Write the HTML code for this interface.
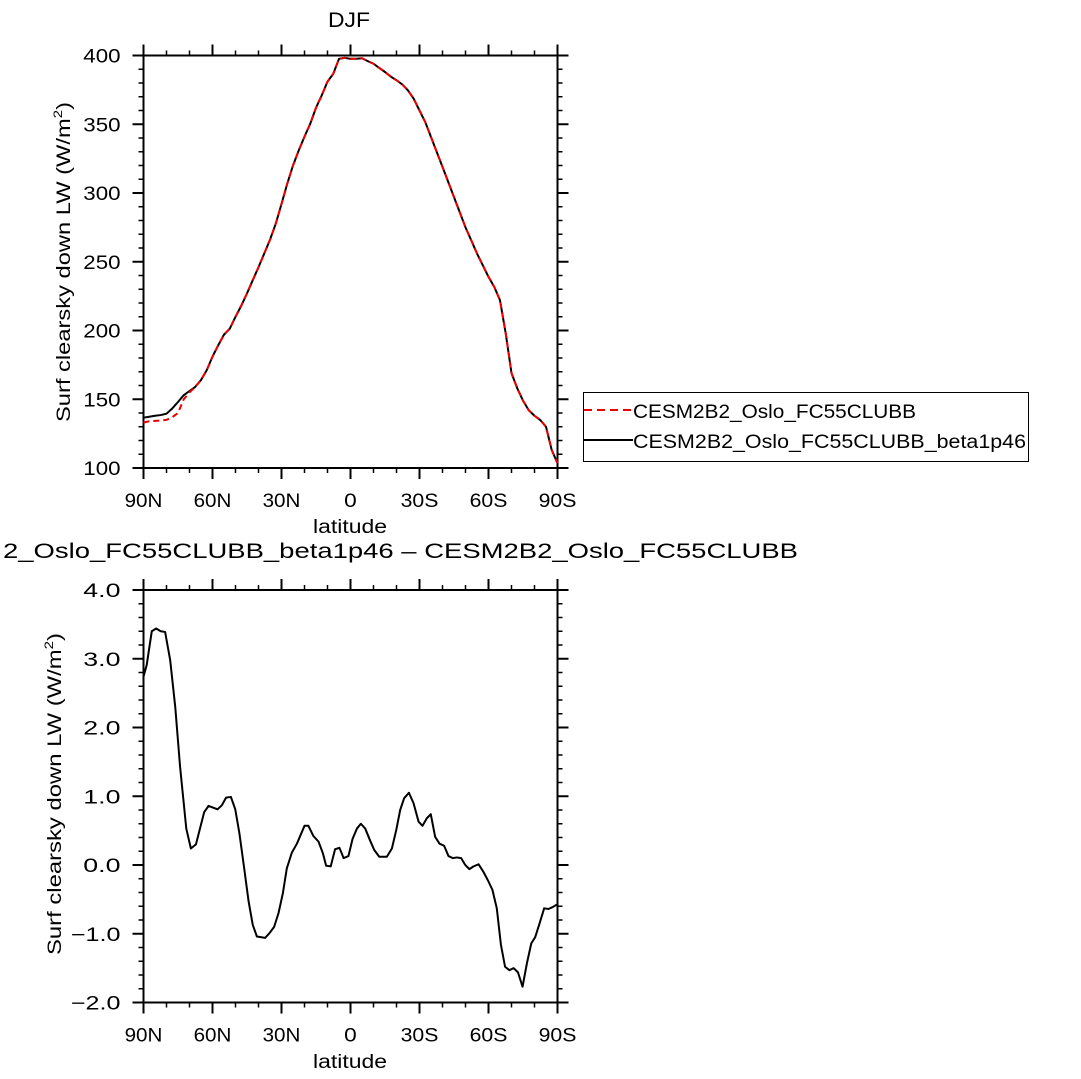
<!DOCTYPE html>
<html><head><meta charset="utf-8"><style>
html,body{margin:0;padding:0;background:#fff;}
svg{display:block;font-family:"Liberation Sans","DejaVu Sans",sans-serif;}
</style></head><body>
<svg id="chart" width="1081" height="1079" viewBox="0 0 1081 1079" xmlns="http://www.w3.org/2000/svg">
<rect width="1081" height="1079" fill="#fff"/>
<g id="top"></g>
<g id="bot"></g>
<text x="349" y="27" font-size="21" text-anchor="middle" textLength="42" lengthAdjust="spacingAndGlyphs">DJF</text>
<text x="3" y="558" font-size="21" textLength="795" lengthAdjust="spacingAndGlyphs">2_Oslo_FC55CLUBB_beta1p46 – CESM2B2_Oslo_FC55CLUBB</text>
<text transform="translate(70,262) rotate(-90)" font-size="19" text-anchor="middle" textLength="320" lengthAdjust="spacingAndGlyphs">Surf clearsky down LW (W/m<tspan font-size="12" dy="-8">2</tspan><tspan dy="8">)</tspan></text>
<text transform="translate(61,794) rotate(-90)" font-size="19" text-anchor="middle" textLength="322" lengthAdjust="spacingAndGlyphs">Surf clearsky down LW (W/m<tspan font-size="12" dy="-8">2</tspan><tspan dy="8">)</tspan></text>
<text x="350" y="533" font-size="19" text-anchor="middle" textLength="74" lengthAdjust="spacingAndGlyphs">latitude</text>
<text x="350" y="1068" font-size="19" text-anchor="middle" textLength="74" lengthAdjust="spacingAndGlyphs">latitude</text>
<g>
<rect x="583.5" y="392.5" width="445" height="69" fill="none" stroke="#000" stroke-width="1"/>
<line x1="584" y1="410" x2="633" y2="410" stroke="#e00" stroke-width="2" stroke-dasharray="8,5"/>
<text x="633" y="418" font-size="19" textLength="283" lengthAdjust="spacingAndGlyphs">CESM2B2_Oslo_FC55CLUBB</text>
<line x1="584" y1="440" x2="633" y2="440" stroke="#000" stroke-width="2"/>
<text x="633" y="448" font-size="19" textLength="393" lengthAdjust="spacingAndGlyphs">CESM2B2_Oslo_FC55CLUBB_beta1p46</text>
</g>
</svg>
<script>
// Top panel data (latitude, degrees north positive), 2.5 degree steps
const topLats = [90,87.5,85,82.5,80,77.5,75,72.5,70,67.5,65,62.5,60,57.5,55,52.5,50,47.5,45,42.5,40,37.5,35,32.5,30,27.5,25,22.5,20,17.5,15,12.5,10,7.5,5,2.5,0,-2.5,-5,-7.5,-10,-12.5,-15,-17.5,-20,-22.5,-25,-27.5,-30,-32.5,-35,-37.5,-40,-42.5,-45,-47.5,-50,-52.5,-55,-57.5,-60,-62.5,-65,-67.5,-70,-72.5,-75,-77.5,-80,-82.5,-85,-87.5,-90];
const topBeta = [136.6,137.3,138,138.5,139.5,143.3,148,153,156,159,164,171.2,181,189.3,197,201.3,210,218,227,236.6,246,256,266,277.7,292,306.8,320,331,341,350.4,362,371,381,386.7,397.6,398.3,397.6,397.6,398,395.9,394,391,388,384.7,382,379,374.6,368.5,360,351.6,340.7,329.8,319,308,297,286,275,265.6,256,247.5,239,231.7,222,197.8,169,158,149,142,138,134.9,130,113,103.5];
const topCtrl = [133,134,134.3,134.5,135,137,140,150,155,159,164,171.2,181,189.3,197,201.3,210,218,227,236.6,246,256,266,277.7,292,306.8,320,331,341,350.4,362,371,381,386.7,397.6,398.3,397.6,397.6,398,395.9,394,391,388,384.7,382,379,374.6,368.5,360,351.6,340.7,329.8,319,308,297,286,275,265.6,256,247.5,239,231.7,222,197.8,169,158,149,142,138,134.9,130,113,103.5];
const topYTicks = [100,150,200,250,300,350,400];
const xTickLats = [90,60,30,0,-30,-60,-90];
const xTickLabels = ["90N","60N","30N","0","30S","60S","90S"];
// Bottom panel (difference)
const diffLats = [90,88.6,86.4,84.5,82.5,80.6,78.4,76.2,74.1,71.4,69.4,67.2,63.6,61.7,57.8,55.9,54.1,52.0,50.1,48.3,46.5,44.3,42.5,40.7,37.1,35.2,33.2,31.3,29.4,27.7,25.5,23.3,20.0,18.3,16.1,13.9,12.0,10.6,8.6,6.7,4.8,3.0,0.9,-0.9,-2.8,-4.5,-6.4,-8.6,-10.3,-12.5,-15.8,-18.0,-19.9,-21.6,-23.3,-25.4,-27.4,-29.6,-31.3,-33.2,-34.9,-36.8,-38.7,-40.7,-42.6,-44.5,-46.2,-48.1,-49.9,-51.7,-53.5,-55.7,-57.8,-59.7,-61.7,-63.6,-65.4,-67.2,-69.1,-70.9,-72.8,-74.8,-76.7,-78.6,-80.3,-82.2,-84.2,-86.1,-88.0,-90];
const diffVals = [2.74,2.91,3.40,3.44,3.40,3.39,2.98,2.30,1.43,0.53,0.24,0.30,0.77,0.86,0.81,0.87,0.98,0.99,0.81,0.46,0.02,-0.53,-0.87,-1.04,-1.06,-0.99,-0.90,-0.70,-0.41,-0.05,0.18,0.31,0.57,0.57,0.42,0.34,0.17,-0.01,-0.02,0.23,0.25,0.10,0.13,0.38,0.53,0.60,0.53,0.35,0.22,0.12,0.12,0.24,0.51,0.80,0.97,1.05,0.90,0.63,0.57,0.68,0.74,0.41,0.31,0.28,0.13,0.10,0.11,0.10,0.0,-0.06,-0.02,0.01,-0.10,-0.22,-0.36,-0.63,-1.16,-1.48,-1.53,-1.50,-1.56,-1.77,-1.43,-1.14,-1.05,-0.85,-0.63,-0.64,-0.61,-0.57];
const botYTicks = [-2,-1,0,1,2,3,4];
const botYLabels = ["\u22122.0","\u22121.0","0.0","1.0","2.0","3.0","4.0"];

const NS="http://www.w3.org/2000/svg";
function mk(parent,tag,attrs){const e=document.createElementNS(NS,tag);for(const k in attrs)e.setAttribute(k,attrs[k]);parent.appendChild(e);return e;}
const X0=143.5,X1=557.5;
function xs(lat){return X0+(90-lat)/180*(X1-X0);}

function panel(g,Y0,Y1,ymin,ymax,yticks,ylabels,minorStep,prefix){
  const ys=v=>Y1-(v-ymin)/(ymax-ymin)*(Y1-Y0);
  for(let v=ymin;v<=ymax+1e-9;v+=minorStep){
    const y=ys(v);
    const a=mk(g,'line',{x1:X0-5,x2:X0,y1:y,y2:y,stroke:'#000','stroke-width':1.5});
    
    
    const b=mk(g,'line',{x1:X1,x2:X1+5,y1:y,y2:y,stroke:'#000','stroke-width':1.5});
    
    
  }
  yticks.forEach((v,i)=>{
    const y=ys(v);
    const a=mk(g,'line',{x1:X0-11,x2:X0,y1:y,y2:y,stroke:'#000','stroke-width':2});
    
    
    const b=mk(g,'line',{x1:X1,x2:X1+11,y1:y,y2:y,stroke:'#000','stroke-width':2});
    
    
    const t=mk(g,'text',{x:X0-23,y:y+7,'font-size':19,'text-anchor':'end',textLength:ylabels[i].length*12.4,lengthAdjust:'spacingAndGlyphs'});
    t.textContent=ylabels[i];
    
    
  });
  for(let lat=90;lat>=-90;lat-=10){
    const x=xs(lat);
    const maj=(lat%30===0);
    const L=maj?11:5;
    const a=mk(g,'line',{x1:x,x2:x,y1:Y0-L,y2:Y0,stroke:'#000','stroke-width':maj?2:1.5});
    
    
    const b=mk(g,'line',{x1:x,x2:x,y1:Y1,y2:Y1+L,stroke:'#000','stroke-width':maj?2:1.5});
    
    
  }
  xTickLats.forEach((lat,i)=>{
    const t=mk(g,'text',{x:xs(lat),y:Y1+39,'font-size':19,'text-anchor':'middle',textLength:xTickLabels[i].length*12.6,lengthAdjust:'spacingAndGlyphs'});
    t.textContent=xTickLabels[i];
    
    
  });
  const r=mk(g,'rect',{x:X0,y:Y0,width:X1-X0,height:Y1-Y0,fill:'none',stroke:'#000','stroke-width':2});
  
  
  return ys;
}
function line(g,lats,vals,ys,attrs,name){
  const d=lats.map((l,i)=>(i?'L':'M')+xs(l).toFixed(2)+','+ys(vals[i]).toFixed(2)).join(' ');
  const p=mk(g,'path',Object.assign({d:d,fill:'none','stroke-linejoin':'round'},attrs));
  
  
}
const gt=document.getElementById('top');
const ysT=panel(gt,55.5,468,100,400,topYTicks,topYTicks.map(String),10,'top');
line(gt,topLats,topBeta,ysT,{stroke:'#000','stroke-width':2},'line-beta1p46');
line(gt,topLats,topCtrl,ysT,{stroke:'#e00','stroke-width':2,'stroke-dasharray':'6,4'},'line-cesm2b2');
const gb=document.getElementById('bot');
const ysB=panel(gb,590,1002.5,-2,4,botYTicks,botYLabels,0.2,'bottom');
line(gb,diffLats,diffVals,ysB,{stroke:'#000','stroke-width':2},'line-difference');
</script>
</body></html>
